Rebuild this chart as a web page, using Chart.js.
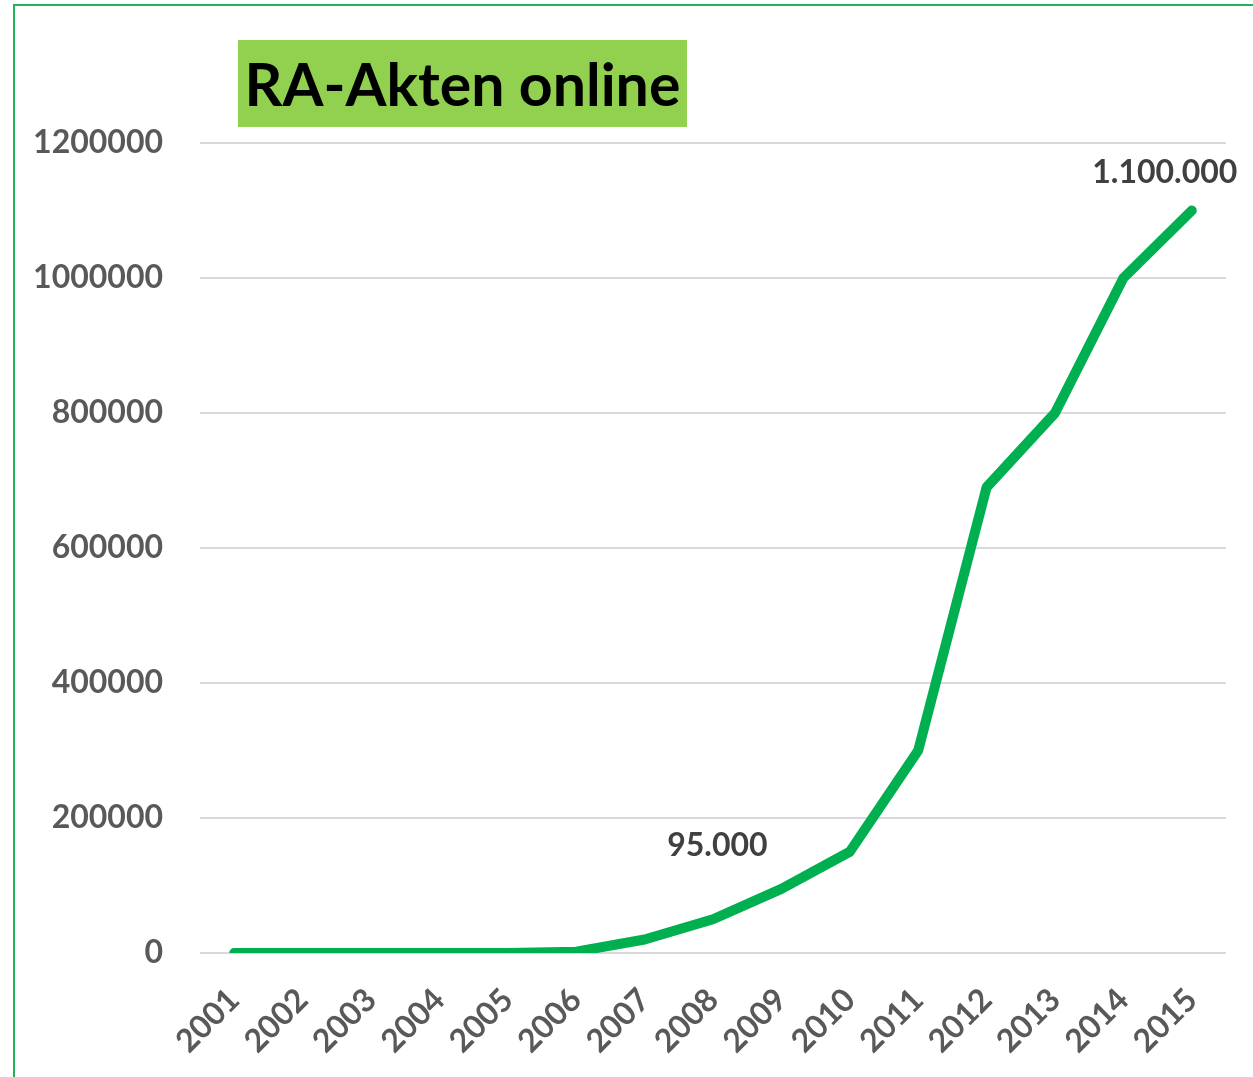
<!DOCTYPE html>
<html>
<head>
<meta charset="utf-8">
<script src="https://cdn.jsdelivr.net/npm/chart.js@4"></script>
<style>
  html, body { margin: 0; padding: 0; background: #fff; }
  #wrap { position: relative; width: 1253px; height: 1077px; overflow: hidden; }
  #frame { position: absolute; left: 13px; top: 4px; width: 1300px; height: 1200px; border: 2px solid #1fb45c; box-sizing: border-box; }
  #title { position: absolute; left: 238px; top: 40px; width: 449px; height: 87px; background: #92d050;
           font: bold 59px Lato, sans-serif; color: #000; line-height: 87px; text-align: center; }
  canvas { position: absolute; left: 0; top: 0; }
</style>
</head>
<body>
<div id="wrap">
  <div id="frame"></div>
  <canvas id="chart" width="1253" height="1077"></canvas>
  <div id="title">RA-Akten online</div>
</div>
<script>
const years = ['2001', '2002', '2003', '2004', '2005', '2006', '2007', '2008',
               '2009', '2010', '2011', '2012', '2013', '2014', '2015'];
const akten = [0, 0, 0, 0, 0, 2000, 20000, 50000, 95000, 150000, 300000, 690000, 800000, 1000000, 1100000];
const labelTexts = { 8: '95.000', 14: '1.100.000' };

// Beschriftung einzelner Werte
const valueLabels = {
    id: 'valueLabels',
    afterDatasetsDraw(chart) {
        const ctx = chart.ctx;
        const meta = chart.getDatasetMeta(0);
        const offsets = { 8: [-64, -43], 14: [-27, -38] };
        ctx.save();
        ctx.font = 'bold 32px Lato, sans-serif';
        ctx.fillStyle = '#404040';
        ctx.textAlign = 'center';
        ctx.textBaseline = 'middle';
        Object.keys(labelTexts).forEach(function(i) {
            const pt = meta.data[i];
            ctx.fillText(labelTexts[i], pt.x + offsets[i][0], pt.y + offsets[i][1]);
        });
        ctx.restore();
    }
};

new Chart(document.getElementById('chart').getContext('2d'), {
    type: 'line',
    data: {
        labels: years,
        datasets: [{
            data: akten,
            borderColor: '#00b050',
            borderWidth: 10,
            borderCapStyle: 'round',
            borderJoinStyle: 'round',
            pointRadius: 0,
            tension: 0
        }]
    },
    options: {
        responsive: false,
        animation: false,
        layout: {
            padding: { left: 0, right: 27, top: 143, bottom: 0 }
        },
        scales: {
            x: {
                offset: true,
                grid: { display: false },
                border: { display: false },
                ticks: {
                    color: '#595959',
                    font: { family: 'Lato', weight: 'bold', size: 32 },
                    minRotation: 45,
                    maxRotation: 45,
                    padding: 20
                },
                afterFit: function(scale) { scale.height = 124; }
            },
            y: {
                min: 0,
                max: 1200000,
                border: { display: false },
                grid: { color: '#d9d9d9', lineWidth: 2, drawTicks: false },
                ticks: {
                    stepSize: 200000,
                    color: '#595959',
                    font: { family: 'Lato', weight: 'bold', size: 32 },
                    padding: 37,
                    callback: function(v) { return String(v); }
                },
                afterFit: function(scale) { scale.width = 200; }
            }
        },
        plugins: {
            legend: { display: false },
            tooltip: { enabled: false }
        }
    },
    plugins: [valueLabels]
});
</script>
</body>
</html>
